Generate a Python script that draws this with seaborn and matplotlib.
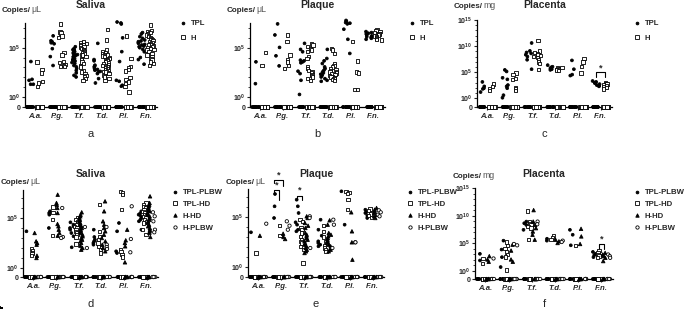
import matplotlib
matplotlib.use('Agg')
import matplotlib.pyplot as plt
import seaborn as sns
import pandas as pd
import numpy as np
from matplotlib.lines import Line2D
from matplotlib.ticker import FixedLocator

np.random.seed(3)

# категории бактерий
cats = ['A.a.', 'P.g.', 'T.f.', 'T.d.', 'P.l.', 'F.n.']

# значения log10(копии), по одному списку на категорию
saliva_tpl = [[3.6, 1.8, 1.7, 1.3, 1.3],
              [6.2, 5.7, 5.6, 5.5, 5.4, 4.9, 4.1, 3.2],
              [5.1, 4.9, 4.8, 4.76, 4.6, 4.5, 4.4, 4.35, 4.3, 4.2, 4.1, 4.05, 3.9, 3.8, 3.75, 3.65, 3.5, 3.4, 3.2, 3.06, 2.9, 2.7, 2.45, 2.2, 2.04],
              [5.44, 3.8, 3.67, 3.23, 3.13, 3.06, 2.9, 2.8, 2.72, 2.6, 2.55, 2.38, 1.87, 1.43],
              [7.6, 7.5, 7.4, 6.0, 4.6, 3.6, 1.7, 1.6, 1.2, 1.1],
              [6.53, 6.39, 6.12, 5.95, 5.78, 5.68, 5.61, 5.51, 5.44, 5.34, 5.27, 5.17, 5.1, 5.0, 4.83, 4.59, 4.01, 3.8, 3.33]]
saliva_h = [[3.57, 2.79, 2.45, 1.6, 1.43, 1.09],
            [7.4, 6.6, 6.5, 6.2, 6.05, 4.5, 4.25, 3.6, 3.5, 3.3, 3.2, 3.1, 3.1],
            [5.6, 5.5, 5.44, 5.34, 5.27, 5.17, 5.1, 5.03, 4.93, 4.83, 4.76, 4.7, 4.59, 4.49, 4.42, 4.32, 4.25, 4.08, 3.91, 3.74, 3.57, 3.4, 3.23, 3.06, 2.72, 2.55, 2.38, 2.21, 2.04, 1.87, 1.7],
            [6.87, 5.78, 4.76, 4.59, 4.49, 4.42, 4.32, 4.25, 4.15, 4.08, 3.98, 3.91, 3.8, 3.74, 3.64, 3.57, 3.47, 3.4, 3.3, 3.23, 3.13, 3.06, 2.96, 2.89, 2.79, 2.72, 2.62, 2.55, 2.45, 2.38, 2.21, 2.04, 1.87, 1.7],
            [6.2, 3.9, 3.13, 2.96, 2.79, 2.65, 1.97, 1.77, 1.53, 1.36, 1.09, 0.51],
            [7.31, 6.73, 6.63, 6.53, 6.46, 6.39, 6.29, 6.19, 6.12, 6.05, 5.95, 5.85, 5.78, 5.71, 5.61, 5.51, 5.44, 5.34, 5.27, 5.17, 5.1, 5.03, 4.93, 4.83, 4.76, 4.59, 4.42, 4.25, 4.08, 3.91, 3.74, 3.57, 3.4, 3.23]]

plaque_tpl = [[3.57, 1.36],
              [7.41, 6.29, 5.03, 4.18, 3.16],
              [5.44, 4.83, 4.59, 3.74, 3.67, 3.57, 3.47, 2.62, 2.38, 1.7, 0.27],
              [4.83, 3.91, 3.67, 3.4, 3.06, 2.89, 2.72, 2.55, 2.45, 2.31, 2.21, 2.04, 1.87, 1.7, 1.6],
              [7.76, 7.65, 7.55, 7.48, 7.41, 6.87, 5.85, 4.42],
              [6.63, 6.53, 6.46, 6.39, 6.29, 6.19, 6.12, 6.05, 5.95, 5.85]]
plaque_h = [[4.49, 3.23],
            [6.29, 5.61, 4.25, 3.74, 3.57, 3.23, 2.89],
            [5.37, 5.27, 5.1, 4.93, 4.76, 4.59, 4.08, 3.91, 3.06, 2.89, 2.72, 2.62, 2.45, 2.31, 2.21, 2.04, 1.87, 1.7],
            [4.93, 4.76, 4.42, 3.4, 3.23, 3.06, 2.89, 2.79, 2.72, 2.62, 2.55, 2.45, 2.38, 2.31, 2.21, 2.11, 2.04, 1.94, 1.87, 1.77, 1.7],
            [5.61, 3.64, 2.55, 2.45, 0.75, 0.75],
            [6.8, 6.73, 6.63, 6.53, 6.46, 6.39, 6.29, 6.19, 6.12, 6.05, 5.95, 5.85, 5.78]]

placenta_tpl = [[3.15, 2.3, 1.94, 1.82, 1.21],
                [5.45, 5.15, 3.94, 3.64, 2.55, 2.3, 1.94, 0.61, 0.12],
                [10.6, 9.09, 8.79, 8.6, 8.36, 8.0, 7.39, 5.58],
                [6.36, 6.06, 5.94, 5.76, 5.58, 5.45],
                [7.27, 5.58, 4.55, 4.36],
                [3.33, 3.15, 3.03, 2.91, 2.73, 2.55, 2.42, 2.3]]
placenta_h = [[2.73, 2.3, 1.94, 1.52],
              [4.85, 4.55, 3.76, 3.64, 2.12, 1.82, 1.52],
              [11.03, 9.09, 8.79, 8.6, 8.36, 8.18, 8.0, 7.76, 7.39, 6.97, 6.67, 5.58],
              [5.94, 5.82, 5.7, 5.58, 5.45, 5.33],
              [7.58, 6.97, 6.06, 4.85],
              [3.03, 2.91, 2.73, 2.55, 2.42, 2.3, 2.12, 1.82]]

# нижний ряд: 4 подгруппы
sal_tpl_plbw = [[3.67], [5.67, 5.5, 5.33, 4.0], [4.57, 4.33, 4.17, 4.0, 3.83, 3.5, 3.17, 2.07],
                [3.83, 3.1, 2.83, 2.67, 2.5, 2.33], [4.5, 3.67, 1.67, 1.5],
                [5.67, 5.43, 5.33, 5.17, 5.0, 4.83, 4.67, 3.83]]
sal_tpl_hd = [[1.9, 1.77, 1.57, 1.43, 1.23], [6.1, 5.57, 4.83, 3.23],
              [5.0, 4.83, 4.67, 4.5, 4.33, 4.17, 4.0, 3.83, 3.67, 3.5, 3.33, 3.1, 2.4],
              [6.33, 3.67, 3.17, 2.83, 2.5, 2.17, 1.83, 1.5], [7.67, 7.5, 7.33, 5.83, 1.83, 1.67, 1.33, 1.1],
              [6.5, 6.33, 6.17, 6.0, 5.83, 5.67, 5.5, 5.33, 5.17, 5.0, 4.83, 4.67, 4.5, 3.83, 3.33]]
sal_h_hd = [[3.5, 2.67, 2.5, 2.33, 1.23, 1.0], [7.33, 6.5, 6.33, 6.0, 5.5, 4.4, 4.17, 3.83, 3.5, 3.23],
            [5.57, 5.33, 5.17, 5.0, 4.83, 4.67, 4.5, 4.33, 4.17, 4.0, 3.83, 3.67, 3.5, 3.33, 3.17, 3.0, 2.83, 2.67, 2.5, 2.23, 2.0, 1.83],
            [6.67, 5.67, 4.67, 4.33, 4.0, 3.67, 3.33, 3.0, 2.67, 2.33, 2.0, 1.67], [3.83, 2.77, 2.5, 2.17, 0.57],
            [7.17, 6.5, 6.33, 6.17, 6.0, 5.83, 5.67, 5.5, 5.33, 5.17, 5.0, 4.83, 4.67, 4.5, 4.33, 4.17, 4.0, 3.83, 3.67, 3.5, 3.1]]
sal_h_plbw = [[], [6.0, 3.1, 3.0], [4.1, 2.0], [4.1, 2.33, 2.1, 1.9], [6.17, 2.9, 1.57],
              [5.57, 5.17, 4.67, 3.83, 3.57]]

plq_tpl_plbw = [[3.47], [7.3, 6.07, 4.9], [6.73, 6.07, 5.4, 4.47, 4.23, 3.73, 3.57],
                [4.73, 3.73, 3.13, 2.57, 2.4, 2.23, 2.07], [7.57, 4.23], [5.73, 5.47, 5.4, 5.13, 4.9]]
plq_tpl_hd = [[1.4], [4.13, 3.13], [4.73, 4.57, 3.9, 3.73, 3.4, 3.07, 2.73, 2.57, 2.4, 2.07, 1.73, 0.4],
              [4.13, 3.57, 3.0, 2.57, 2.33, 2.13, 1.9, 1.73, 1.57], [7.57, 7.47, 7.33, 6.73, 5.73],
              [5.8, 5.63, 5.47, 5.3, 5.13, 4.97]]
plq_h_hd = [[3.13], [3.33, 3.0, 2.8],
            [5.07, 4.9, 4.4, 4.13, 3.9, 3.4, 3.23, 3.07, 2.9, 2.73, 2.57, 2.4, 2.23, 2.07, 1.9, 1.73, 1.57, 1.4],
            [4.67, 4.23, 3.4, 3.23, 3.07, 2.9, 2.73, 2.57, 2.4, 2.23, 2.07, 1.9, 1.73, 1.57],
            [5.47, 3.57, 2.47, 0.73], [5.9, 5.73, 5.57, 5.4, 5.23, 5.07, 4.9]]
plq_h_plbw = [[4.33], [4.57, 4.13, 3.73], [5.07, 4.9, 1.9], [4.73, 4.23, 1.9], [2.47, 2.47],
              [5.67, 5.47, 5.23, 5.07]]

plc_tpl_plbw = [[3.1, 1.9], [5.48, 3.87, 2.5, 0.71], [8.93, 8.63, 8.33, 7.44], [5.83, 5.48],
                [7.44, 6.55, 4.64], [3.45, 3.1, 2.86, 2.5]]
plc_tpl_hd = [[2.26, 1.31], [5.24, 4.64, 4.05, 3.45, 2.98, 2.5, 0.18],
              [10.83, 8.93, 8.63, 8.33, 8.04, 7.74, 5.65], [6.43, 6.07, 5.65], [4.58],
              [3.69, 3.27, 2.98, 2.68, 2.38]]
plc_h_hd = [[2.68, 2.08, 1.67], [4.76, 3.69, 2.08, 1.67], [11.0, 8.93, 8.33, 7.74, 7.14, 6.55, 5.65],
            [5.65, 5.36, 5.06], [7.62, 6.25, 4.88], [3.27, 2.98, 2.68, 2.38, 1.79]]
plc_h_plbw = [[2.26], [4.88, 4.64], [8.93, 8.45], [5.48, 5.24], [], [2.98, 2.68, 2.38]]

# число нулевых значений в каждой группе
n_zero_top = 12
n_zero_bottom = 5

groups_top = ['TPL', 'H']
groups_bottom = ['TPL-PLBW', 'TPL-HD', 'H-HD', 'H-PLBW']
style = {'TPL': ('o', 'black', 2.0), 'H': ('s', 'white', 2.4),
         'TPL-PLBW': ('o', 'black', 2.0), 'TPL-HD': ('s', 'white', 2.4),
         'H-HD': ('^', 'black', 2.5), 'H-PLBW': ('o', 'white', 2.4)}

sns.set_style('ticks')
plt.rcParams['font.family'] = ['Liberation Sans', 'DejaVu Sans']
plt.rcParams['mathtext.fontset'] = 'custom'
plt.rcParams['mathtext.rm'] = 'Liberation Sans'
plt.rcParams['mathtext.bf'] = 'Liberation Sans:bold'

W, H = 685, 309
fig = plt.figure(figsize=(6.85, 3.09), dpi=100)


def make_df(series, names, n_zero, zero_pos):
    rows = []
    for name, vals in zip(names, series):
        for cat, lst in zip(cats, vals):
            for v in lst:
                rows.append((cat, name, v))
            for _ in range(n_zero):
                rows.append((cat, name, zero_pos))
    return pd.DataFrame(rows, columns=['cat', 'group', 'y'])


def add_axes(l, t, r, b):
    return fig.add_axes([l / W, 1 - b / H, (r - l) / W, (b - t) / H])


def dodge_x(cat, group, names):
    n = len(names)
    return cats.index(cat) - 0.4 + 0.8 * (names.index(group) + 0.5) / n


def draw_panel(ax, df, names, zero_pos, top, majors):
    for g in names:
        m, fc, s = style[g]
        sns.stripplot(data=df[df['group'] == g], x='cat', y='y', hue='group', order=cats,
                      hue_order=names, dodge=True, jitter=0.32, palette={h: fc for h in names},
                      marker=m, size=s, linewidth=0.6, edgecolor='black', legend=False,
                      ax=ax, clip_on=False, zorder=3)
    ax.set_xlim(-0.45, 5.5)
    ax.set_ylim(zero_pos, top)
    ax.yaxis.set_major_locator(FixedLocator([zero_pos] + majors))
    ax.set_yticklabels(['0'] + [r'$\mathbf{10^{%d}}$' % v for v in majors])
    ax.yaxis.set_minor_locator(FixedLocator(list(range(0, int(top) + 1))))
    ax.set_xlabel('')
    ax.set_ylabel('')
    for sp in ['top', 'right']:
        ax.spines[sp].set_visible(False)
    for sp in ['left', 'bottom']:
        ax.spines[sp].set_linewidth(0.9)
        ax.spines[sp].set_color('black')
    ax.tick_params(axis='y', which='major', length=2.5, width=0.8, labelsize=5.0, pad=1)
    ax.tick_params(axis='y', which='minor', length=1.5, width=0.6)
    ax.tick_params(axis='x', length=2, width=0.8, pad=2)
    for lab in ax.get_xticklabels():
        lab.set_fontsize(5.6)
        lab.set_fontweight('bold')
        lab.set_fontstyle('italic')
    for lab in ax.get_yticklabels():
        lab.set_fontweight('bold')


def bracket(ax, x1, x2, y_top, y1, y2, star_y):
    ax.plot([x1, x1, x2, x2], [y1, y_top, y_top, y2], color='black', lw=0.8, clip_on=False)
    ax.text((x1 + x2) / 2, star_y, '*', ha='center', va='center', fontsize=6.5,
            fontweight='bold', clip_on=False)


def ylabel(ax, x, y, unit):
    t = fig.text(x / W, 1 - y / H, 'Copies/', fontsize=5.8, fontweight='bold', va='center')
    ax.annotate(unit, xy=(1, 0.5), xycoords=t, va='center', ha='left',
                fontsize=6.3, color='#555555', annotation_clip=False)


def legend(ax, names, x, y, spacing):
    handles = []
    for g in names:
        m, fc, s = style[g]
        handles.append(Line2D([], [], linestyle='none', marker=m, markerfacecolor=fc,
                              markeredgecolor='black', markeredgewidth=0.6, markersize=s))
    ax.legend(handles, names, loc='upper left', bbox_to_anchor=(x / W, 1 - y / H),
              bbox_transform=fig.transFigure, frameon=False, handlelength=0.8,
              handletextpad=0.6, borderpad=0, borderaxespad=0, labelspacing=spacing,
              prop={'weight': 'bold', 'size': 5.6})


# верхний ряд
panels_top = [
    ('Saliva', saliva_tpl, saliva_h, (25, 23, 157, 107), -1.0, 7.5, [0, 5], 'μL', 'a'),
    ('Plaque', plaque_tpl, plaque_h, (250, 23, 385, 107), -1.0, 7.5, [0, 5], 'μL', 'b'),
    ('Placenta', placenta_tpl, placenta_h, (477, 20, 612, 107), -1.65, 15, [0, 5, 10, 15], 'mg', 'c'),
]
legend_top = [(180, 20), (409, 20), (634, 20)]
for (title, s1, s2, box, zp, top, majors, unit, letter), (lx, ly) in zip(panels_top, legend_top):
    ax = add_axes(*box)
    df = make_df([s1, s2], groups_top, n_zero_top, zp)
    draw_panel(ax, df, groups_top, zp, top, majors)
    cx = (box[0] + box[2]) / 2
    fig.text(cx / W, 1 - 5 / H, title, ha='center', va='center', fontsize=7.5, fontweight='bold')
    fig.text(cx / W, 1 - 134 / H, letter, ha='center', va='center', fontsize=8)
    ylabel(ax, box[0] - 23, 10 if unit == 'μL' else 6, unit)
    legend(ax, groups_top, lx, ly, 0.85)
    if title == 'Placenta':
        x1 = dodge_x('F.n.', 'TPL', groups_top)
        x2 = dodge_x('F.n.', 'H', groups_top)
        bracket(ax, x1, x2, 5.03, 4.12, 4.12, 5.9)

# нижний ряд
panels_bottom = [
    ('Saliva', [sal_tpl_plbw, sal_tpl_hd, sal_h_hd, sal_h_plbw], (23, 190, 158, 277), -0.9, 7.8, [0, 5], 'μL', 'd'),
    ('Plaque', [plq_tpl_plbw, plq_tpl_hd, plq_h_hd, plq_h_plbw], (248, 189, 384, 277), -1.0, 7.8, [0, 5], 'μL', 'e'),
    ('Placenta', [plc_tpl_plbw, plc_tpl_hd, plc_h_hd, plc_h_plbw], (475, 188, 613, 279), -1.45, 15, [0, 5, 10, 15], 'mg', 'f'),
]
legend_bottom = [(172, 189), (407, 189), (634, 189)]
for (title, series, box, zp, top, majors, unit, letter), (lx, ly) in zip(panels_bottom, legend_bottom):
    ax = add_axes(*box)
    df = make_df(series, groups_bottom, n_zero_bottom, zp)
    draw_panel(ax, df, groups_bottom, zp, top, majors)
    cx = (box[0] + box[2]) / 2
    fig.text(cx / W, 1 - 174 / H, title, ha='center', va='center', fontsize=7.5, fontweight='bold')
    fig.text(cx / W, 1 - 304 / H, letter, ha='center', va='center', fontsize=8)
    ylabel(ax, box[0] - 22, 182 if unit == 'μL' else 176, unit)
    legend(ax, groups_bottom, lx, ly, 0.55)
    if title == 'Plaque':
        a = dodge_x('P.g.', 'TPL-PLBW', groups_bottom)
        b = dodge_x('P.g.', 'TPL-HD', groups_bottom)
        c = dodge_x('P.g.', 'H-HD', groups_bottom)
        bracket(ax, a, c, 8.73, 8.4, 8.1, 9.2)
        bracket(ax, a, b, 7.73, 7.4, 6.7, 8.2)
        a = dodge_x('T.f.', 'TPL-PLBW', groups_bottom)
        b = dodge_x('T.f.', 'TPL-HD', groups_bottom)
        bracket(ax, a, b, 7.13, 6.73, 6.73, 7.67)
    if title == 'Placenta':
        a = dodge_x('F.n.', 'TPL-HD', groups_bottom)
        b = dodge_x('F.n.', 'H-HD', groups_bottom)
        bracket(ax, a, b, 4.88, 4.05, 4.05, 5.83)

fig.savefig('out.png', dpi=100)
